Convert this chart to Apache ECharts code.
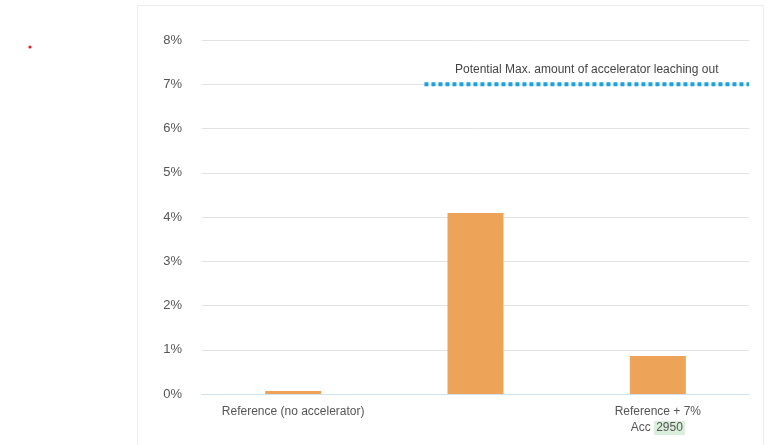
<!DOCTYPE html>
<html><head><meta charset="utf-8">
<script src="https://cdn.jsdelivr.net/npm/echarts@6/dist/echarts.min.js"></script>
<style>html,body{margin:0;padding:0;background:#fff}#c{width:779px;height:445px}</style>
</head><body><div id="c"></div>
<script>
const categories = ['Reference (no accelerator)', 'Reference + 7%\nAcc 960-1', 'Reference + 7%\nAcc {hl|2950}'];
const values = [0.07, 4.09, 0.86];
const maxLineValue = 7;
const maxLineX = [1.22, 2.11, 3];
const maxLineLabel = 'Potential Max. amount of accelerator leaching out';
const yTicks = [0, 1, 2, 3, 4, 5, 6, 7, 8];

const chart = echarts.init(document.getElementById('c'));
const font = 'Liberation Sans, Arial, sans-serif';
chart.setOption({
  backgroundColor: '#fff',
  animation: false,
  textStyle: { fontFamily: font },
  graphic: [
    { type: 'rect', shape: { x: 137.5, y: 5.5, width: 626, height: 450 }, style: { fill: 'none', stroke: '#ececec', lineWidth: 1 } },
    { type: 'circle', shape: { cx: 30, cy: 47, r: 1.6 }, style: { fill: '#e0202a' } }
  ],
  grid: { left: 202, right: 30, top: 40, bottom: 51 },
  xAxis: [
    { type: 'category', data: categories,
      axisLine: { lineStyle: { color: '#cfe1ef' } }, axisTick: { show: false },
      axisLabel: { color: '#555', fontSize: 12, lineHeight: 16, margin: 10,
        rich: { hl: { backgroundColor: '#d9eedb', color: '#555', fontSize: 12, padding: [1, 2] } } } },
    { type: 'value', min: 0, max: 3, show: false }
  ],
  yAxis: { type: 'value', min: 0, max: 8, interval: 1,
    axisLabel: { formatter: v => yTicks.includes(v) ? v + '%' : '', color: '#555', fontSize: 13, margin: 20 },
    splitLine: { lineStyle: { color: '#e2e2e2' } },
    axisLine: { show: false }, axisTick: { show: false } },
  series: [
    { type: 'bar', data: values, barWidth: 56, itemStyle: { color: '#eda458' }, xAxisIndex: 0 },
    { type: 'line', xAxisIndex: 1,
      data: maxLineX.map((x, i) => ({ value: [x, maxLineValue],
        label: { show: i === 1, formatter: maxLineLabel, position: 'top', distance: 8, color: '#444', fontSize: 12 } })),
      symbolSize: 0.001, lineStyle: { color: '#1aa3e0', width: 4, type: [4, 3] } }
  ]
});
</script></body></html>
